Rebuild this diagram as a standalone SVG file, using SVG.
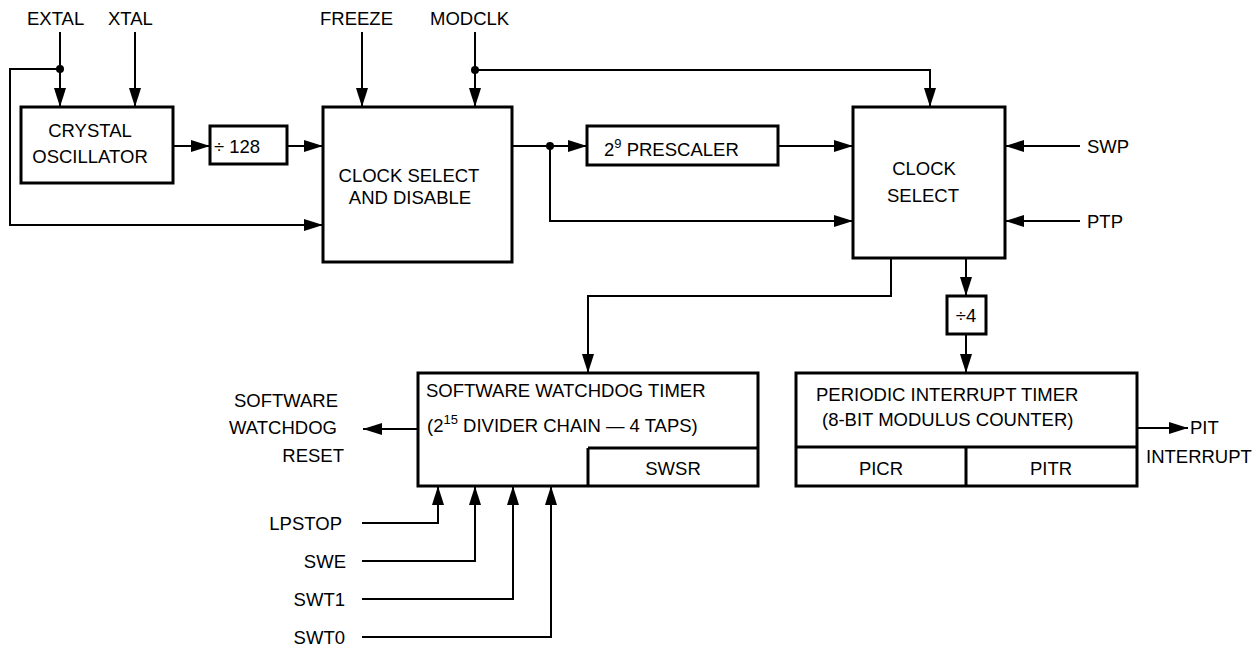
<svg xmlns="http://www.w3.org/2000/svg" width="1258" height="649" viewBox="0 0 1258 649">
<style>
text{font-family:"Liberation Sans",Arial,sans-serif;font-size:18.5px;fill:#000}
.box{fill:#fff;stroke:#000;stroke-width:3}
.ln{fill:none;stroke:#000;stroke-width:2}
.div{stroke:#000;stroke-width:3}
.m{text-anchor:middle}
.e{text-anchor:end}
.sup{font-size:13px}
</style>
<defs>
<marker id="ah" markerUnits="userSpaceOnUse" markerWidth="19" markerHeight="12" refX="19" refY="6" orient="auto">
<path d="M0,0 L19,6 L0,12 Z" fill="#000"/>
</marker>
</defs>
<rect width="1258" height="649" fill="#fff"/>

<g id="labels">
<text x="27" y="25">EXTAL</text>
<text x="108" y="25">XTAL</text>
<text x="320" y="25">FREEZE</text>
<text x="430" y="25">MODCLK</text>
<text x="1087" y="153">SWP</text>
<text x="1087" y="228">PTP</text>
<text x="286" y="407" class="m">SOFTWARE</text>
<text x="283" y="434" class="m">WATCHDOG</text>
<text x="344" y="462" class="e">RESET</text>
<text x="342" y="530" class="e">LPSTOP</text>
<text x="346" y="568" class="e">SWE</text>
<text x="345" y="606" class="e">SWT1</text>
<text x="345" y="644" class="e">SWT0</text>
<text x="1190" y="434">PIT</text>
<text x="1146" y="463">INTERRUPT</text>
</g>

<g id="connectors">
<path class="ln" d="M60,32 V107" marker-end="url(#ah)"/>
<path class="ln" d="M60,69 H10 V225 H323" marker-end="url(#ah)"/>
<circle cx="60" cy="69" r="4" fill="#000"/>
<path class="ln" d="M135,32 V107" marker-end="url(#ah)"/>
<path class="ln" d="M173,146 H210" marker-end="url(#ah)"/>
<path class="ln" d="M287,146 H323" marker-end="url(#ah)"/>
<path class="ln" d="M362,32 V107" marker-end="url(#ah)"/>
<path class="ln" d="M475,32 V107" marker-end="url(#ah)"/>
<path class="ln" d="M475,70 H930 V107" marker-end="url(#ah)"/>
<circle cx="475" cy="70" r="4" fill="#000"/>
<path class="ln" d="M512,146 H587" marker-end="url(#ah)"/>
<circle cx="550" cy="146" r="4" fill="#000"/>
<path class="ln" d="M550,146 V221 H853" marker-end="url(#ah)"/>
<path class="ln" d="M778,146 H853" marker-end="url(#ah)"/>
<path class="ln" d="M1080,146 H1005" marker-end="url(#ah)"/>
<path class="ln" d="M1080,221 H1005" marker-end="url(#ah)"/>
<path class="ln" d="M891,258 V296 H588 V373" marker-end="url(#ah)"/>
<path class="ln" d="M966,258 V296" marker-end="url(#ah)"/>
<path class="ln" d="M966,334 V373" marker-end="url(#ah)"/>
<path class="ln" d="M418,429 H363" marker-end="url(#ah)"/>
<path class="ln" d="M1137,428 H1188" marker-end="url(#ah)"/>
<path class="ln" d="M362,523 H438 V486" marker-end="url(#ah)"/>
<path class="ln" d="M362,561 H475 V486" marker-end="url(#ah)"/>
<path class="ln" d="M362,599 H513 V486" marker-end="url(#ah)"/>
<path class="ln" d="M362,637 H551 V486" marker-end="url(#ah)"/>
</g>

<g id="crystal-oscillator">
<rect class="box" x="21" y="107" width="152" height="76"/>
<text x="90" y="137" class="m">CRYSTAL</text>
<text x="90" y="163" class="m">OSCILLATOR</text>
</g>

<g id="div128">
<rect class="box" x="210" y="126" width="77" height="38"/>
<text x="214" y="153">÷ 128</text>
</g>

<g id="clock-select-disable">
<rect class="box" x="323" y="107" width="189" height="155"/>
<text x="409" y="182" class="m">CLOCK SELECT</text>
<text x="410" y="204" class="m">AND DISABLE</text>
</g>

<g id="prescaler">
<rect class="box" x="587" y="126" width="191" height="39"/>
<text x="604" y="156">2<tspan class="sup" dy="-8">9</tspan><tspan dy="8"> PRESCALER</tspan></text>
</g>

<g id="clock-select">
<rect class="box" x="853" y="107" width="152" height="151"/>
<text x="924" y="175" class="m">CLOCK</text>
<text x="923" y="202" class="m">SELECT</text>
</g>

<g id="div4">
<rect class="box" x="947" y="296" width="39" height="38"/>
<text x="966" y="322" class="m">÷4</text>
</g>

<g id="watchdog">
<rect class="box" x="418" y="373" width="340" height="113"/>
<line class="div" x1="588" y1="448" x2="758" y2="448"/>
<line class="div" x1="588" y1="448" x2="588" y2="486"/>
<text x="426" y="397">SOFTWARE WATCHDOG TIMER</text>
<text x="427" y="432">(2<tspan class="sup" dy="-8">15</tspan><tspan dy="8"> DIVIDER CHAIN — 4 TAPS)</tspan></text>
<text x="673" y="475" class="m">SWSR</text>
</g>

<g id="pit">
<rect class="box" x="796" y="373" width="341" height="113"/>
<line class="div" x1="796" y1="447" x2="1137" y2="447"/>
<line class="div" x1="966" y1="447" x2="966" y2="486"/>
<text x="816" y="401">PERIODIC INTERRUPT TIMER</text>
<text x="822" y="426">(8-BIT MODULUS COUNTER)</text>
<text x="881" y="475" class="m">PICR</text>
<text x="1051" y="475" class="m">PITR</text>
</g>
</svg>
